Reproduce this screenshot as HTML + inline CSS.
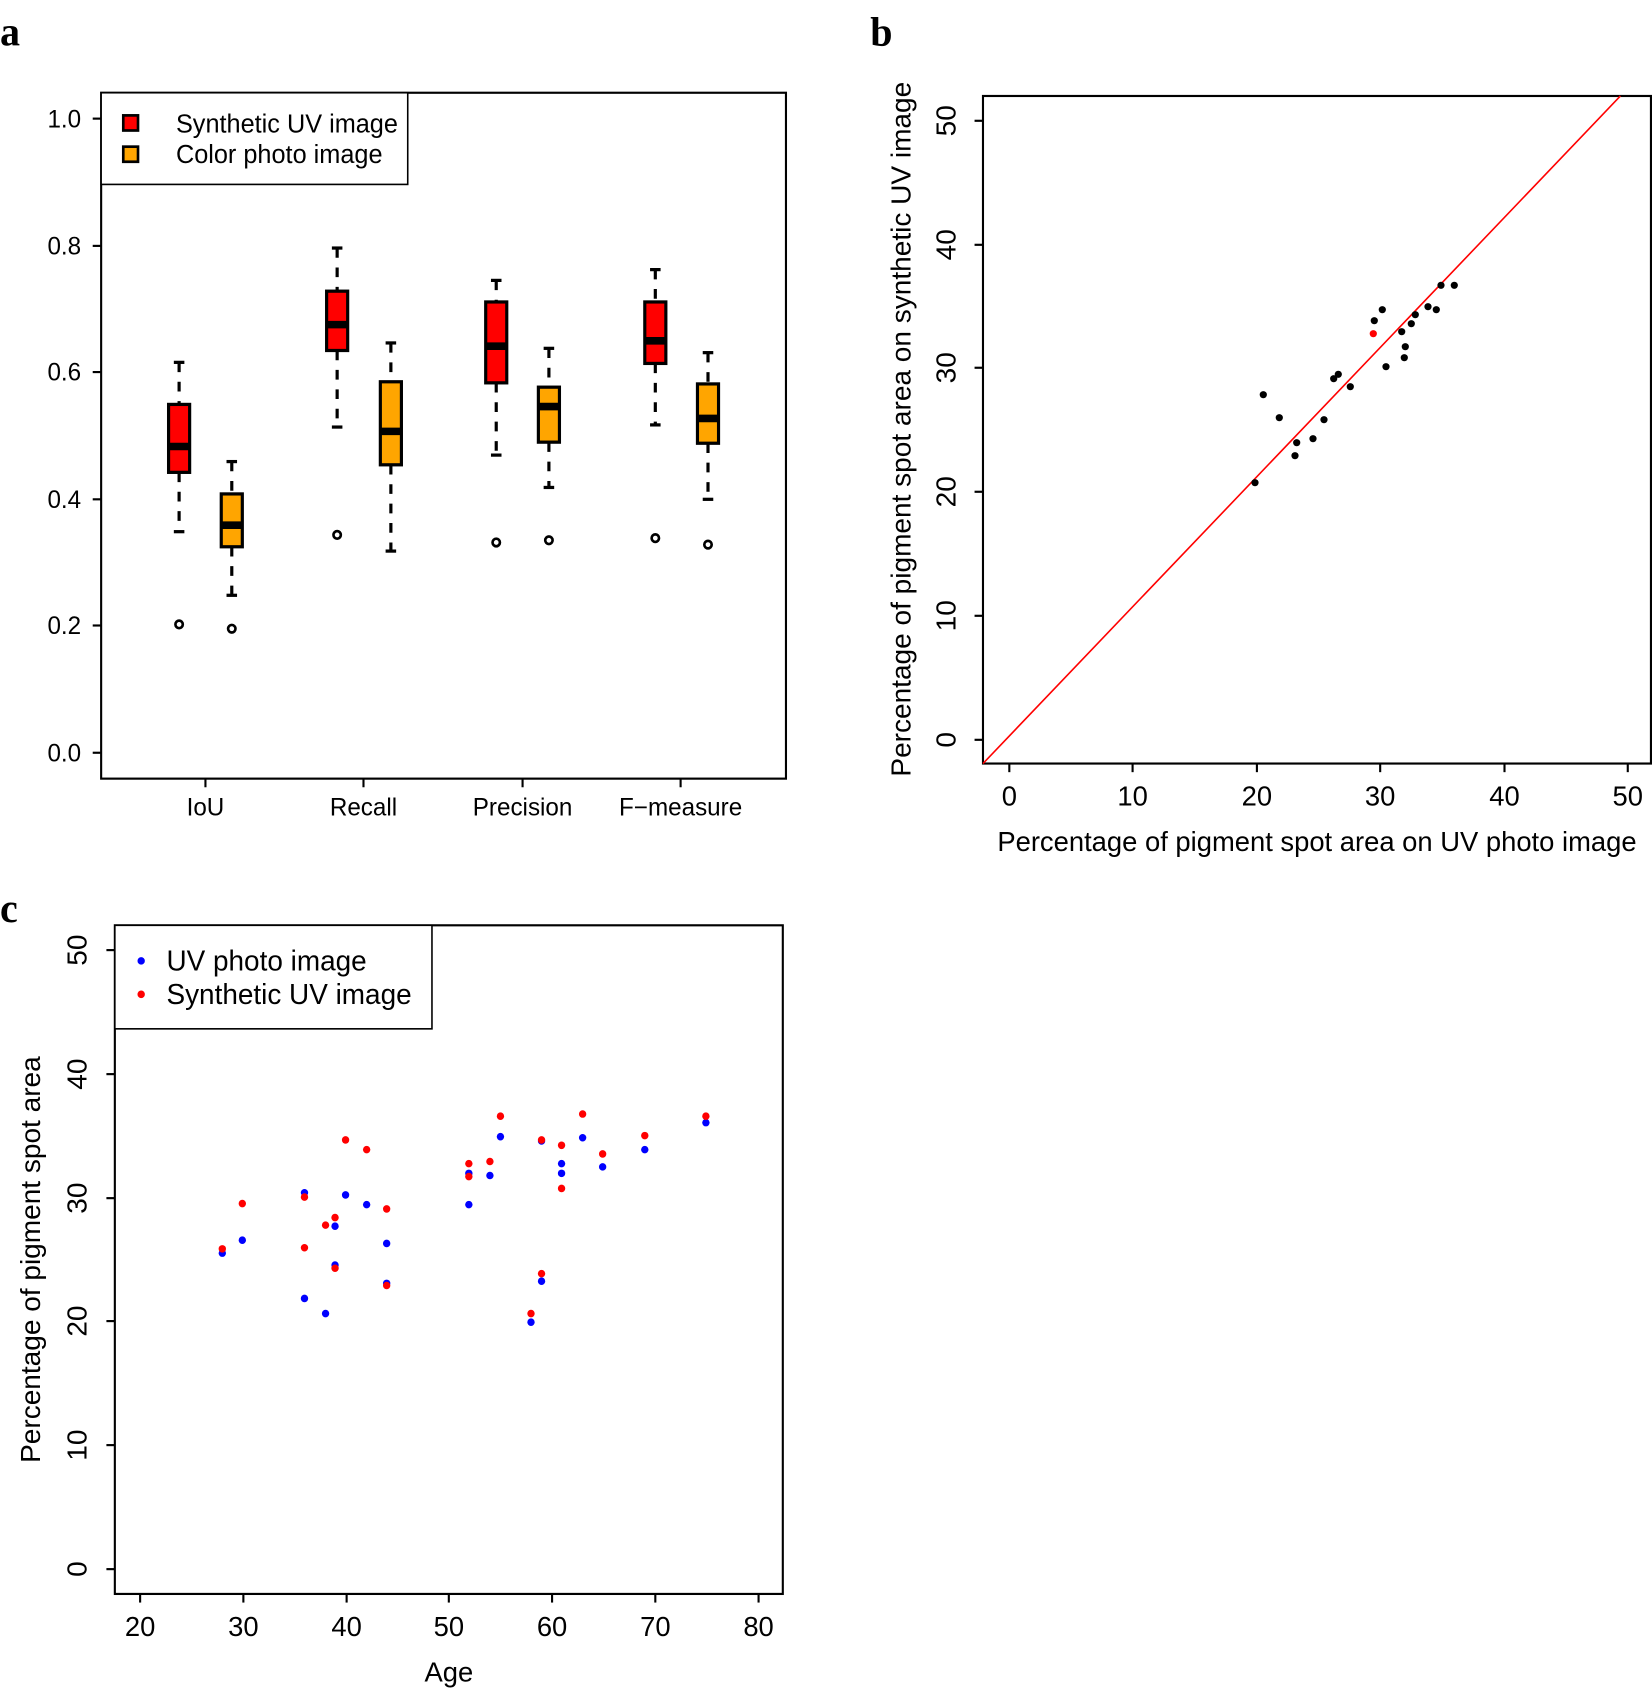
<!DOCTYPE html>
<html><head><meta charset="utf-8"><style>
html,body{margin:0;padding:0;background:#fff;}
svg{display:block;}
text{font-family:"Liberation Sans",sans-serif;fill:#000;}
.t{font-size:23px;}
.u{font-size:26px;}
.L{font-family:"Liberation Serif",serif;font-weight:bold;font-size:38px;}
</style></head><body>
<svg width="1652" height="1691" viewBox="0 0 1568 1568" preserveAspectRatio="none" xmlns="http://www.w3.org/2000/svg">
<rect width="1568" height="1568" fill="#fff"/>
<text class="L" x="0" y="42">a</text>
<text class="L" x="826" y="42">b</text>
<text class="L" x="0" y="855">c</text>

<!-- ===== Panel a ===== -->
<rect x="96" y="86" width="650" height="636" fill="none" stroke="#000" stroke-width="2"/>
<g stroke="#000" stroke-width="2">
<line x1="88" y1="110" x2="96" y2="110"/><line x1="88" y1="228" x2="96" y2="228"/>
<line x1="88" y1="345" x2="96" y2="345"/><line x1="88" y1="463" x2="96" y2="463"/>
<line x1="88" y1="580" x2="96" y2="580"/><line x1="88" y1="698" x2="96" y2="698"/>
<line x1="195" y1="722" x2="195" y2="730"/><line x1="345" y1="722" x2="345" y2="730"/>
<line x1="496" y1="722" x2="496" y2="730"/><line x1="646" y1="722" x2="646" y2="730"/>
</g>
<g class="t" text-anchor="end">
<text x="77" y="118">1.0</text><text x="77" y="236">0.8</text><text x="77" y="353">0.6</text>
<text x="77" y="471">0.4</text><text x="77" y="588">0.2</text><text x="77" y="706">0.0</text>
</g>
<g class="t" text-anchor="middle">
<text x="195" y="756">IoU</text><text x="345" y="756">Recall</text>
<text x="496" y="756">Precision</text><text x="646" y="756">F−measure</text>
</g>
<g stroke="#000" stroke-width="3" fill="none">
<g stroke-dasharray="9,9">
<line x1="170" y1="336" x2="170" y2="375"/><line x1="170" y1="438" x2="170" y2="493"/>
<line x1="220" y1="428" x2="220" y2="458"/><line x1="220" y1="507" x2="220" y2="552"/>
<line x1="320" y1="230" x2="320" y2="270"/><line x1="320" y1="325" x2="320" y2="396"/>
<line x1="371" y1="318" x2="371" y2="354"/><line x1="371" y1="431" x2="371" y2="511"/>
<line x1="471" y1="260" x2="471" y2="280"/><line x1="471" y1="355" x2="471" y2="422"/>
<line x1="521" y1="323" x2="521" y2="359"/><line x1="521" y1="410" x2="521" y2="452"/>
<line x1="622" y1="250" x2="622" y2="280"/><line x1="622" y1="337" x2="622" y2="394"/>
<line x1="672" y1="327" x2="672" y2="356"/><line x1="672" y1="411" x2="672" y2="463"/>
</g>
<line x1="165" y1="336" x2="175" y2="336"/><line x1="165" y1="493" x2="175" y2="493"/>
<line x1="215" y1="428" x2="225" y2="428"/><line x1="215" y1="552" x2="225" y2="552"/>
<line x1="315" y1="230" x2="325" y2="230"/><line x1="315" y1="396" x2="325" y2="396"/>
<line x1="366" y1="318" x2="376" y2="318"/><line x1="366" y1="511" x2="376" y2="511"/>
<line x1="466" y1="260" x2="476" y2="260"/><line x1="466" y1="422" x2="476" y2="422"/>
<line x1="516" y1="323" x2="526" y2="323"/><line x1="516" y1="452" x2="526" y2="452"/>
<line x1="617" y1="250" x2="627" y2="250"/><line x1="617" y1="394" x2="627" y2="394"/>
<line x1="667" y1="327" x2="677" y2="327"/><line x1="667" y1="463" x2="677" y2="463"/>
<rect x="160" y="375" width="20" height="63" fill="#ff0000"/>
<rect x="210" y="458" width="20" height="49" fill="#ffa500"/>
<rect x="310" y="270" width="20" height="55" fill="#ff0000"/>
<rect x="361" y="354" width="20" height="77" fill="#ffa500"/>
<rect x="461" y="280" width="20" height="75" fill="#ff0000"/>
<rect x="511" y="359" width="20" height="51" fill="#ffa500"/>
<rect x="612" y="280" width="20" height="57" fill="#ff0000"/>
<rect x="662" y="356" width="20" height="55" fill="#ffa500"/>
</g>
<g stroke="#000" stroke-width="7">
<line x1="160" y1="414" x2="180" y2="414"/><line x1="210" y1="487" x2="230" y2="487"/>
<line x1="310" y1="301" x2="330" y2="301"/><line x1="361" y1="400" x2="381" y2="400"/>
<line x1="461" y1="321" x2="481" y2="321"/><line x1="511" y1="377" x2="531" y2="377"/>
<line x1="612" y1="316" x2="632" y2="316"/><line x1="662" y1="388" x2="682" y2="388"/>
</g>
<g stroke="#000" stroke-width="2.5" fill="none">
<circle cx="170" cy="579" r="3.5"/><circle cx="220" cy="583" r="3.5"/>
<circle cx="320" cy="496" r="3.5"/><circle cx="471" cy="503" r="3.5"/>
<circle cx="521" cy="501" r="3.5"/><circle cx="622" cy="499" r="3.5"/>
<circle cx="672" cy="505" r="3.5"/>
</g>
<rect x="96" y="86" width="291" height="85" fill="#fff" stroke="#000" stroke-width="1.5"/>
<rect x="117" y="107" width="14" height="14" fill="#ff0000" stroke="#000" stroke-width="2.5"/>
<rect x="117" y="136" width="14" height="14" fill="#ffa500" stroke="#000" stroke-width="2.5"/>
<text x="167" y="123" style="font-size:24px">Synthetic UV image</text>
<text x="167" y="151" style="font-size:24px">Color photo image</text>

<!-- ===== Panel b ===== -->
<rect x="933" y="89" width="634" height="619" fill="none" stroke="#000" stroke-width="2"/>
<g stroke="#000" stroke-width="2">
<line x1="958" y1="708" x2="958" y2="716"/><line x1="1075" y1="708" x2="1075" y2="716"/>
<line x1="1193" y1="708" x2="1193" y2="716"/><line x1="1310" y1="708" x2="1310" y2="716"/>
<line x1="1428" y1="708" x2="1428" y2="716"/><line x1="1545" y1="708" x2="1545" y2="716"/>
<line x1="925" y1="686" x2="933" y2="686"/><line x1="925" y1="571" x2="933" y2="571"/>
<line x1="925" y1="456" x2="933" y2="456"/><line x1="925" y1="341" x2="933" y2="341"/>
<line x1="925" y1="227" x2="933" y2="227"/><line x1="925" y1="112" x2="933" y2="112"/>
</g>
<g class="u" text-anchor="middle">
<text x="958" y="747">0</text><text x="1075" y="747">10</text><text x="1193" y="747">20</text>
<text x="1310" y="747">30</text><text x="1428" y="747">40</text><text x="1545" y="747">50</text>
<text x="1250" y="789">Percentage of pigment spot area on UV photo image</text>
<text transform="translate(907,686) rotate(-90)">0</text>
<text transform="translate(907,571) rotate(-90)">10</text>
<text transform="translate(907,456) rotate(-90)">20</text>
<text transform="translate(907,341) rotate(-90)">30</text>
<text transform="translate(907,227) rotate(-90)">40</text>
<text transform="translate(907,112) rotate(-90)">50</text>
<text transform="translate(864,398) rotate(-90)">Percentage of pigment spot area on synthetic UV image</text>
</g>
<line x1="933" y1="708" x2="1538" y2="89" stroke="#ff0000" stroke-width="1.5"/>
<g transform="scale(0.94915,0.92726)" fill="#000">
<circle cx="1255" cy="482.7" r="3.6"/><circle cx="1263.3" cy="394.7" r="3.6"/>
<circle cx="1279.3" cy="417.7" r="3.6"/><circle cx="1296.7" cy="442.7" r="3.6"/>
<circle cx="1295" cy="455.7" r="3.6"/><circle cx="1313" cy="438.7" r="3.6"/>
<circle cx="1324" cy="419.7" r="3.6"/><circle cx="1333.7" cy="378.7" r="3.6"/>
<circle cx="1338.3" cy="374.3" r="3.6"/><circle cx="1350.3" cy="386.7" r="3.6"/>
<circle cx="1374.3" cy="320.7" r="3.6"/><circle cx="1382.3" cy="309.7" r="3.6"/>
<circle cx="1386" cy="366.7" r="3.6"/><circle cx="1401.7" cy="331.7" r="3.6"/>
<circle cx="1405.3" cy="346.7" r="3.6"/><circle cx="1404.3" cy="357.7" r="3.6"/>
<circle cx="1411.3" cy="323.7" r="3.6"/><circle cx="1415.3" cy="314.7" r="3.6"/>
<circle cx="1428" cy="306.7" r="3.6"/><circle cx="1436.3" cy="309.7" r="3.6"/>
<circle cx="1441" cy="285.3" r="3.6"/><circle cx="1454.3" cy="285.3" r="3.6"/>
<circle cx="1373.3" cy="333.7" r="3.6" fill="#ff0000"/>
</g>

<!-- ===== Panel c ===== -->
<rect x="109" y="858" width="634" height="620" fill="none" stroke="#000" stroke-width="2"/>
<g stroke="#000" stroke-width="2">
<line x1="133" y1="1478" x2="133" y2="1486"/><line x1="231" y1="1478" x2="231" y2="1486"/>
<line x1="329" y1="1478" x2="329" y2="1486"/><line x1="426" y1="1478" x2="426" y2="1486"/>
<line x1="524" y1="1478" x2="524" y2="1486"/><line x1="622" y1="1478" x2="622" y2="1486"/>
<line x1="720" y1="1478" x2="720" y2="1486"/>
<line x1="101" y1="1455" x2="109" y2="1455"/><line x1="101" y1="1340" x2="109" y2="1340"/>
<line x1="101" y1="1225" x2="109" y2="1225"/><line x1="101" y1="1111" x2="109" y2="1111"/>
<line x1="101" y1="996" x2="109" y2="996"/><line x1="101" y1="881" x2="109" y2="881"/>
</g>
<g class="u" text-anchor="middle">
<text x="133" y="1517">20</text><text x="231" y="1517">30</text><text x="329" y="1517">40</text>
<text x="426" y="1517">50</text><text x="524" y="1517">60</text><text x="622" y="1517">70</text>
<text x="720" y="1517">80</text>
<text x="426" y="1559">Age</text>
<text transform="translate(82,1455) rotate(-90)">0</text>
<text transform="translate(82,1340) rotate(-90)">10</text>
<text transform="translate(82,1225) rotate(-90)">20</text>
<text transform="translate(82,1111) rotate(-90)">30</text>
<text transform="translate(82,996) rotate(-90)">40</text>
<text transform="translate(82,881) rotate(-90)">50</text>
<text transform="translate(38,1168) rotate(-90)">Percentage of pigment spot area</text>
</g>
<g fill="#0000ff">
<circle cx="211" cy="1162" r="3.5"/><circle cx="230" cy="1150" r="3.5"/><circle cx="289" cy="1106" r="3.5"/>
<circle cx="289" cy="1204" r="3.5"/><circle cx="309" cy="1218" r="3.5"/><circle cx="318" cy="1137" r="3.5"/>
<circle cx="318" cy="1173" r="3.5"/><circle cx="328" cy="1108" r="3.5"/><circle cx="348" cy="1117" r="3.5"/>
<circle cx="367" cy="1153" r="3.5"/><circle cx="367" cy="1190" r="3.5"/><circle cx="445" cy="1088" r="3.5"/>
<circle cx="445" cy="1117" r="3.5"/><circle cx="465" cy="1090" r="3.5"/><circle cx="475" cy="1054" r="3.5"/>
<circle cx="504" cy="1226" r="3.5"/><circle cx="514" cy="1058" r="3.5"/><circle cx="514" cy="1188" r="3.5"/>
<circle cx="533" cy="1079" r="3.5"/><circle cx="533" cy="1088" r="3.5"/><circle cx="553" cy="1055" r="3.5"/>
<circle cx="572" cy="1082" r="3.5"/><circle cx="612" cy="1066" r="3.5"/><circle cx="670" cy="1041" r="3.5"/>
</g>
<g fill="#ff0000">
<circle cx="211" cy="1158" r="3.5"/><circle cx="230" cy="1116" r="3.5"/><circle cx="289" cy="1110" r="3.5"/>
<circle cx="289" cy="1157" r="3.5"/><circle cx="309" cy="1136" r="3.5"/><circle cx="318" cy="1129" r="3.5"/>
<circle cx="318" cy="1176" r="3.5"/><circle cx="328" cy="1057" r="3.5"/><circle cx="348" cy="1066" r="3.5"/>
<circle cx="367" cy="1121" r="3.5"/><circle cx="367" cy="1192" r="3.5"/><circle cx="445" cy="1079" r="3.5"/>
<circle cx="445" cy="1091" r="3.5"/><circle cx="465" cy="1077" r="3.5"/><circle cx="475" cy="1035" r="3.5"/>
<circle cx="504" cy="1218" r="3.5"/><circle cx="514" cy="1057" r="3.5"/><circle cx="514" cy="1181" r="3.5"/>
<circle cx="533" cy="1062" r="3.5"/><circle cx="533" cy="1102" r="3.5"/><circle cx="553" cy="1033" r="3.5"/>
<circle cx="572" cy="1070" r="3.5"/><circle cx="612" cy="1053" r="3.5"/><circle cx="670" cy="1035" r="3.5"/>
</g>
<rect x="109" y="858" width="301" height="96" fill="#fff" stroke="#000" stroke-width="1.5"/>
<circle cx="134" cy="891" r="3.5" fill="#0000ff"/>
<circle cx="134" cy="922" r="3.5" fill="#ff0000"/>
<text x="158" y="900" style="font-size:26.5px">UV photo image</text>
<text x="158" y="931" style="font-size:26.5px">Synthetic UV image</text>
</svg>
</body></html>
